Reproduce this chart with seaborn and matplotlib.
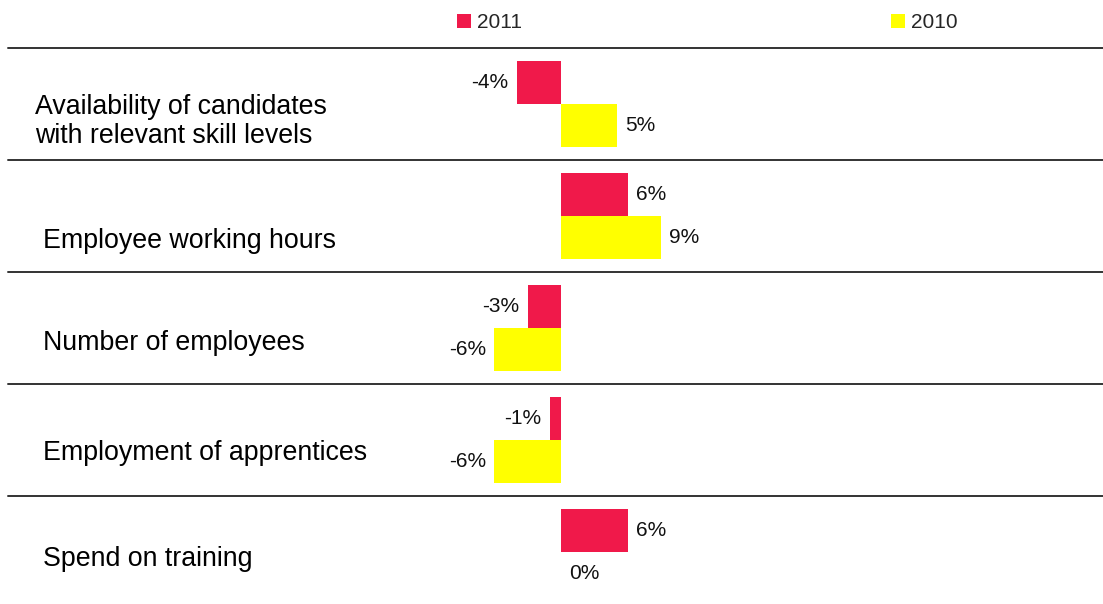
import matplotlib
matplotlib.use("Agg")
import matplotlib.pyplot as plt
import matplotlib.transforms as mtransforms
import pandas as pd
import seaborn as sns

# ---- data -------------------------------------------------------------
categories = [
    "Availability of candidates\nwith relevant skill levels",
    "Employee working hours",
    "Number of employees",
    "Employment of apprentices",
    "Spend on training",
]
years = ["2011", "2010"]
values_2011 = [-4, 6, -3, -1, 6]
values_2010 = [5, 9, -6, -6, 0]

df = pd.DataFrame({
    "category": categories * 2,
    "year": [years[0]] * len(categories) + [years[1]] * len(categories),
    "change": values_2011 + values_2010,
})

# ---- style ------------------------------------------------------------
sns.set_style("white")
plt.rcParams["font.family"] = ["Liberation Sans", "DejaVu Sans"]
palette = {"2011": "#F0194A", "2010": "#FFFF00"}

W, H, DPI = 1103, 604, 100
fig = plt.figure(figsize=(W / DPI, H / DPI), dpi=DPI)
ax = fig.add_axes([8 / W, 0, 1 - 8 / W, 1 - 48 / H])

sns.barplot(
    data=df, y="category", x="change", hue="year",
    order=categories, hue_order=years, palette=palette,
    orient="h", width=0.76, saturation=1, errorbar=None,
    linewidth=0, ax=ax,
)

# scale: zero line at x=561 px, ~11.1 px per percentage point
px_per_unit = 11.1
ax.set_xlim((8 - 561) / px_per_unit, (W - 561) / px_per_unit)
row_h = 112.0
ax_h_px = H - 48
ax.set_ylim(-0.5 + ax_h_px / row_h, -0.5)

# value labels at the bar ends
for cont in ax.containers:
    ax.bar_label(cont, labels=[f"{v:.0f}%" for v in cont.datavalues],
                 padding=6, fontsize=15, color="#111111")

# separators between categories
for k in range(len(categories)):
    ax.axhline(k - 0.5, color="#333333", lw=1.4, clip_on=False)

# category labels on the left
label_x_px = [35, 43, 43, 43, 43]
label_dy_px = [17.5, 24.5, 14.5, 13.5, 7.5]
for i, (name, lx, dy) in enumerate(zip(categories, label_x_px, label_dy_px)):
    trans = mtransforms.blended_transform_factory(fig.transFigure, ax.transData)
    trans = trans + mtransforms.ScaledTranslation(0, -dy / DPI, fig.dpi_scale_trans)
    ax.text(lx / W, i, name, transform=trans, ha="left", va="center",
            fontsize=19.3, color="#000000", linespacing=1.15)

ax.set_xlabel("")
ax.set_ylabel("")
ax.set_xticks([])
ax.set_yticks([])
for s in ax.spines.values():
    s.set_visible(False)

# legend across the top
handles, labels = ax.get_legend_handles_labels()
ax.get_legend().remove()
fig.legend(handles, labels, loc="center left",
           bbox_to_anchor=(457 / W, 1 - 23 / H), ncol=2, frameon=False,
           fontsize=15, handlelength=0.67, handleheight=0.67,
           handletextpad=0.29, columnspacing=17.7, borderpad=0,
           borderaxespad=0)

fig.savefig("out.png", dpi=DPI)
